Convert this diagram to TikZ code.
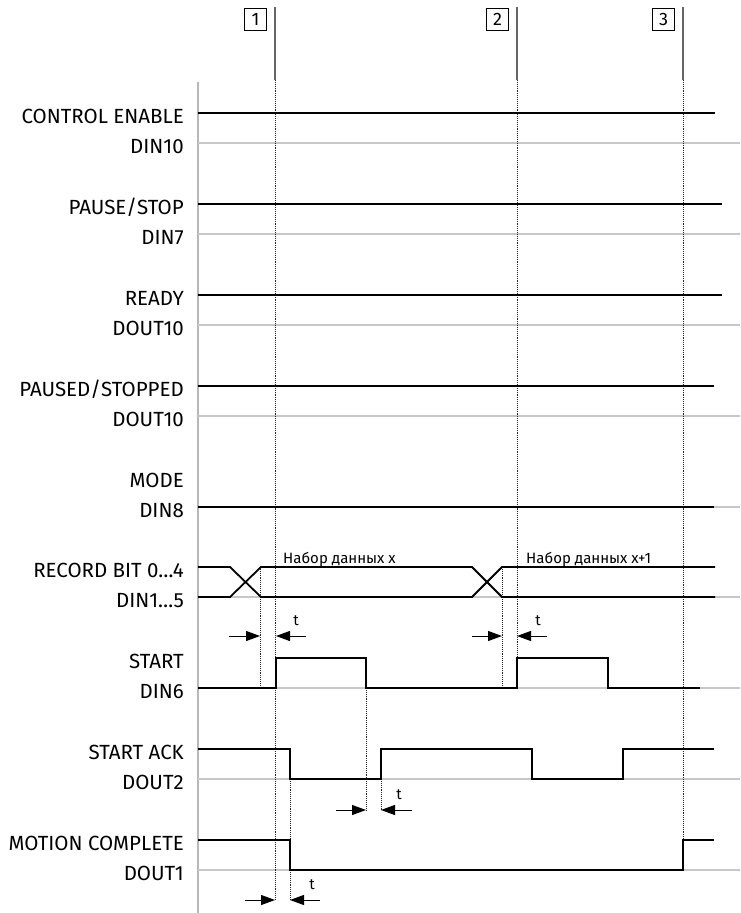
\documentclass[tikz,border=0pt]{standalone}
\usepackage{fontspec}
\setmainfont{Fira Sans}
\usetikzlibrary{arrows.meta}

\begin{document}
\begin{tikzpicture}[x=1pt, y=-1pt,
        siglabel/.style={anchor=base east, inner sep=0pt, font=\fontsize{20.5}{24}\selectfont},
        datatext/.style={anchor=base west, inner sep=0pt, font=\fontsize{15}{18}\selectfont},
        ttext/.style={anchor=base, inner sep=0pt, font=\fontsize{15}{18}\selectfont},
        marknum/.style={draw, line width=0.8pt, minimum size=22pt, inner sep=0pt, anchor=north east, font=\fontsize{18}{20}\selectfont},
        signal/.style={line width=1.8pt, line join=miter},
        gridline/.style={draw=black!22, line width=1.3pt},
        axisline/.style={draw=black!28, line width=2pt},
        marker/.style={draw=black!60, line width=1.1pt},
        guide/.style={draw=black!85, densely dotted, line width=0.9pt},
        tarrow/.style={-{Triangle[length=14pt,width=10pt]}, line width=1pt}]

    \path[use as bounding box] (0,0) rectangle (740,913);

    \draw[axisline] (198,82) -- (198,913);
    \foreach \y in {143,234,325,416,507,597,688,779,870}
        \draw[gridline] (198,\y) -- (740,\y);

    \foreach \x/\n/\yend in {275/1/900, 517/2/688, 683/3/840} {
        \node[marknum] (box\n) at (\x-8,8) {\n};
        \draw[marker] (\x,7) -- (\x,80);
        \draw[guide] (\x,80) -- (\x,\yend);
    }
    \draw[guide] (260,567) -- (260,688);
    \draw[guide] (502,567) -- (502,688);
    \draw[guide] (366,688) -- (366,810);
    \draw[guide] (381,779) -- (381,810);
    \draw[guide] (290,779) -- (290,900);

    \node[siglabel] (ctrl) at (184,123) {CONTROL ENABLE};
    \node[siglabel] (din10) at (184,153) {DIN10};
    \node[siglabel] (pause) at (184,214) {PAUSE/STOP};
    \node[siglabel] (din7) at (184,244) {DIN7};
    \node[siglabel] (ready) at (184,305) {READY};
    \node[siglabel] (dout10a) at (184,335) {DOUT10};
    \node[siglabel] (paused) at (184,396) {PAUSED/STOPPED};
    \node[siglabel] (dout10b) at (184,426) {DOUT10};
    \node[siglabel] (mode) at (184,487) {MODE};
    \node[siglabel] (din8) at (184,517) {DIN8};
    \node[siglabel] (record) at (184,577) {RECORD BIT 0…4};
    \node[siglabel] (din15) at (184,607) {DIN1…5};
    \node[siglabel] (start) at (184,668) {START};
    \node[siglabel] (din6) at (184,698) {DIN6};
    \node[siglabel] (startack) at (184,759) {START ACK};
    \node[siglabel] (dout2) at (184,789) {DOUT2};
    \node[siglabel] (motion) at (184,850) {MOTION COMPLETE};
    \node[siglabel] (dout1) at (184,880) {DOUT1};

    \draw[signal] (198,113) -- (715,113);
    \draw[signal] (198,204) -- (722,204);
    \draw[signal] (198,295) -- (722,295);
    \draw[signal] (198,386) -- (714,386);
    \draw[signal] (198,507) -- (714,507);
    \draw[signal] (198,567) -- (230,567) -- (261,597) -- (472,597) -- (502,567) -- (715,567);
    \draw[signal] (198,597) -- (230,597) -- (261,567) -- (472,567) -- (502,597) -- (715,597);
    \draw[signal] (198,688) -- (276,688) -- (276,658) -- (366,658) -- (366,688) -- (517,688)
        -- (517,658) -- (608,658) -- (608,688) -- (700,688);
    \draw[signal] (198,749) -- (290,749) -- (290,779) -- (381,779) -- (381,749) -- (532,749)
        -- (532,779) -- (623,779) -- (623,749) -- (714,749);
    \draw[signal] (198,840) -- (290,840) -- (290,870) -- (683,870) -- (683,840) -- (714,840);

    \node[datatext] (setx) at (283,563) {Набор данных x};
    \node[datatext] (setx1) at (526,563) {Набор данных x+1};

    \draw[tarrow] (229,636) -- (260,636);
    \draw[tarrow] (306,636) -- (276,636);
    \node[ttext] (t1) at (296,625) {t};
    \draw[tarrow] (472,636) -- (502,636);
    \draw[tarrow] (547,636) -- (517,636);
    \node[ttext] (t2) at (538,625) {t};
    \draw[tarrow] (336,810) -- (366,810);
    \draw[tarrow] (412,810) -- (381,810);
    \node[ttext] (t3) at (399,799) {t};
    \draw[tarrow] (245,900) -- (275,900);
    \draw[tarrow] (320,900) -- (290,900);
    \node[ttext] (t4) at (312,889) {t};
\end{tikzpicture}
\end{document}
